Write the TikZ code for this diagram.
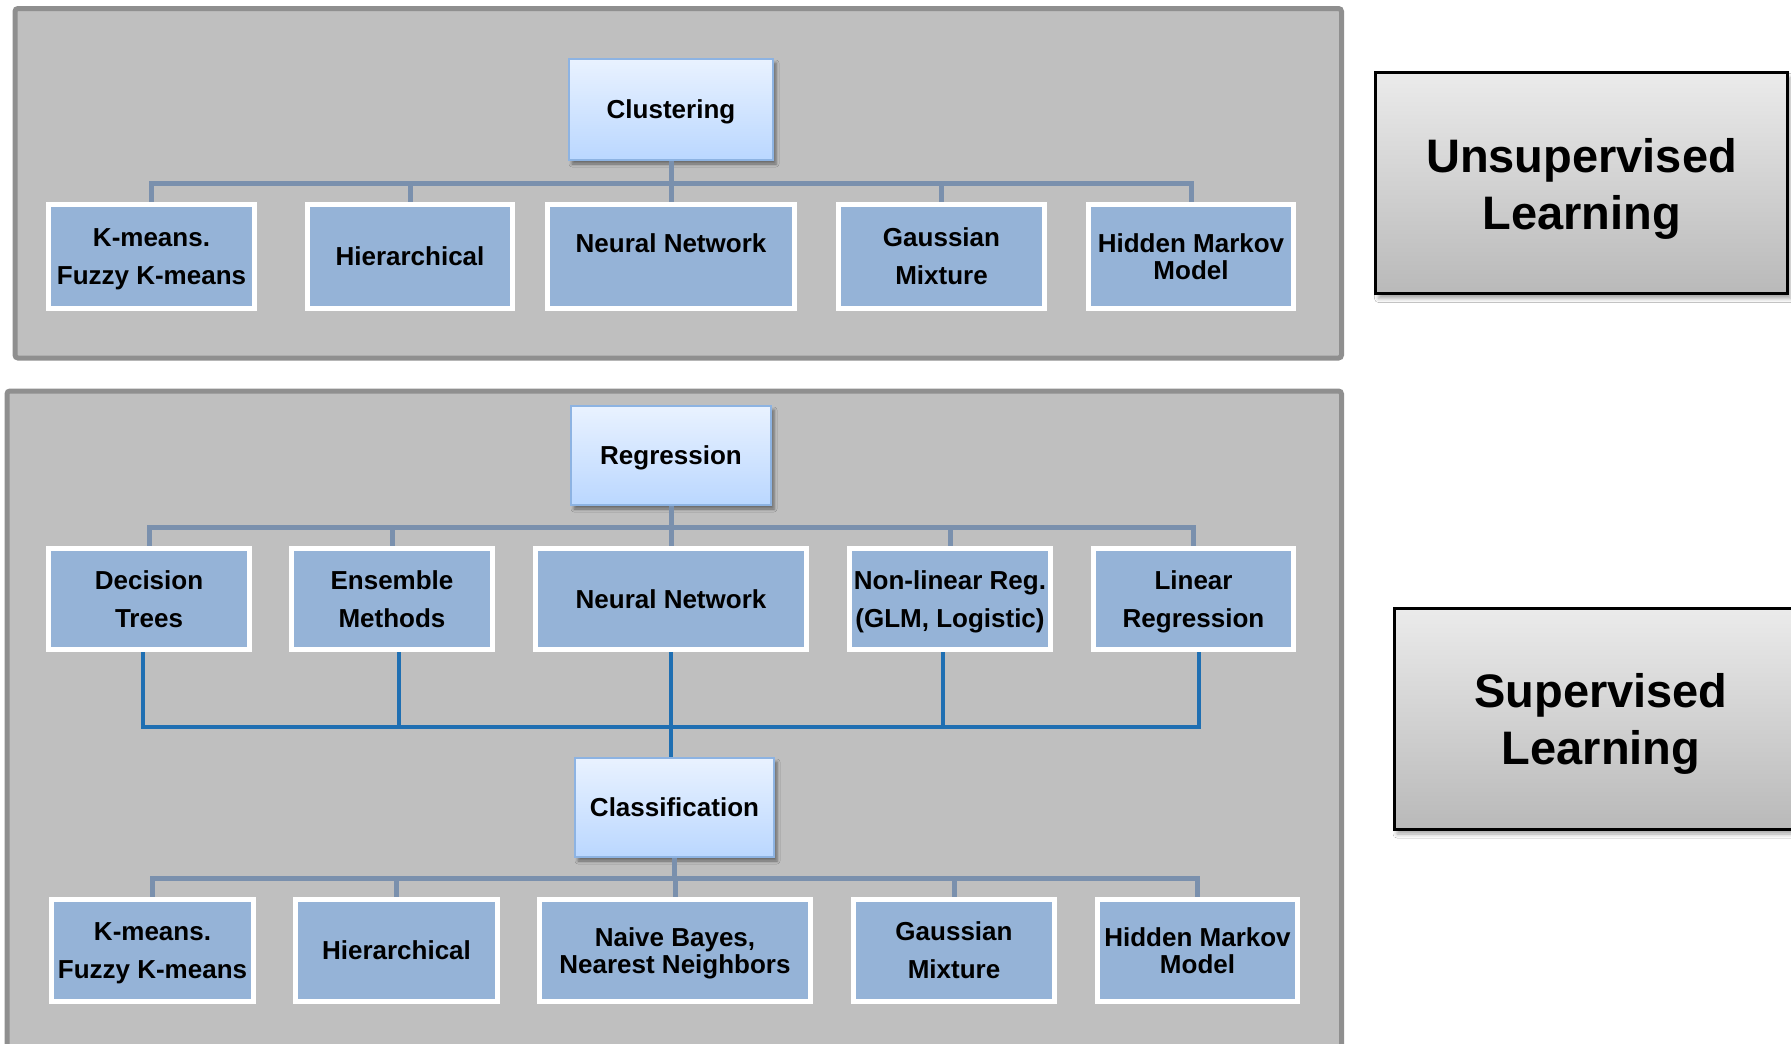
\documentclass[tikz,border=0pt]{standalone}
\usepackage{fontspec}
\setmainfont{Liberation Sans}
\usetikzlibrary{shadows.blur,calc}

\definecolor{panelfill}{HTML}{BFBFBF}
\definecolor{panelline}{HTML}{8F8F8F}
\definecolor{leaffill}{HTML}{95B3D7}
\definecolor{busblue}{HTML}{7A90AD}
\definecolor{linkblue}{HTML}{1F6FB2}
\definecolor{headtop}{HTML}{E9F2FF}
\definecolor{headbot}{HTML}{BAD7FF}
\definecolor{headline}{HTML}{8DB3E2}
\definecolor{labeltop}{HTML}{EBEBEB}
\definecolor{labelbot}{HTML}{B9B9B9}

% invisible struts that even out the height and depth of text lines
\newcommand\smallstrut{\rule[-6pt]{0pt}{30.6pt}}
\newcommand\bigstrut{\rule[-11pt]{0pt}{55.7pt}}
\newcommand\firstline{\rule{0pt}{24.6pt}}
\newcommand\firstbig{\rule{0pt}{46.3pt}}

\begin{document}
\begin{tikzpicture}[x=1pt,y=-1pt,
  panel/.style={fill=panelfill,draw=panelline,line width=5pt,rounded corners=3pt},
  leaf/.style 2 args={draw=white,line width=5pt,fill=leaffill,inner sep=0pt,
    align=center,minimum width=#1,minimum height=#2,
    font=\fontsize{26}{38}\selectfont\bfseries,
    execute at end node=\smallstrut},
  tight/.style={font=\fontsize{26}{27}\selectfont\bfseries},
  head/.style 2 args={draw=headline,line width=2pt,top color=headtop,bottom color=headbot,
    inner sep=0pt,minimum width=#1,minimum height=#2,
    font=\fontsize{26}{30}\selectfont\bfseries,
    execute at end node=\smallstrut,
    blur shadow={shadow xshift=3pt,shadow yshift=-4pt,shadow blur radius=3pt,shadow opacity=45}},
  bigbox/.style 2 args={draw=black,line width=3pt,top color=labeltop,bottom color=labelbot,
    inner sep=0pt,minimum width=#1,minimum height=#2,align=center,
    font=\fontsize{47}{57}\selectfont\bfseries,
    execute at end node=\bigstrut,
    blur shadow={shadow xshift=3pt,shadow yshift=-5pt,shadow blur radius=4pt,shadow opacity=35}},
  busline/.style={draw=busblue,line width=5pt},
  linkline/.style={draw=linkblue,line width=4pt}]

\useasboundingbox (0,0) rectangle (1791,1044);
\clip (0,0) rectangle (1791,1044);
\fill[white] (0,0) rectangle (1791,1044);

% background panels
\draw[panel] (15,8.5) rectangle (1341.5,358);
\draw[panel] (7,391) rectangle (1341.5,1070);

% side labels
\node[bigbox={412}{221}] (unsup) at (1581.5,183) {\firstbig Unsupervised\\Learning};
\node[bigbox={414}{221}] (sup) at (1601,718.5) {\firstbig Supervised\\Learning};

% ---- clustering tree ----
\node[head={204}{101}] (clu) at (671,109.5) {Clustering};
\node[leaf={206}{104}] (k1) at (151.5,256.5) {\firstline K-means.\\Fuzzy K-means};
\node[leaf={205}{104}] (h1) at (410,256.5) {Hierarchical};
\node[leaf={247}{104},tight] (n1) at (671,256.5) {\firstline Neural Network\\\mbox{}};
\node[leaf={206}{104}] (g1) at (941.5,256.5) {\firstline Gaussian\\Mixture};
\node[leaf={205}{104},tight] (m1) at (1191,256.5) {\firstline Hidden Markov\\Model};

\coordinate (b1) at (671,183);
\foreach \c in {k1,h1,n1,g1,m1}
  \draw[busline] (clu.south) -- (b1) -| (\c.north);

% ---- regression tree ----
\node[head={200}{99}] (reg) at (671,455.5) {Regression};
\node[leaf={201}{101}] (dt) at (149,599) {\firstline Decision\\Trees};
\node[leaf={201}{101}] (em) at (392,599) {\firstline Ensemble\\Methods};
\node[leaf={271}{101}] (n2) at (671,599) {Neural Network};
\node[leaf={201}{101}] (nl) at (950,599) {\firstline Non-linear Reg.\\(GLM, Logistic)};
\node[leaf={200}{101}] (lr) at (1193.5,599) {\firstline Linear\\Regression};

\coordinate (b2) at (671,527);
\foreach \c in {dt,em,n2,nl,lr}
  \draw[busline] (reg.south) -- (b2) -| (\c.north);

% links from the regression methods down to classification
\node[head={199}{99}] (cls) at (674.5,807.5) {Classification};
\coordinate (lb) at (671,727);
\draw[linkline] ([xshift=-6pt]dt.south) -- ([xshift=-6pt]dt.south |- lb)
  -- ([xshift=5.5pt]lr.south |- lb) -- ([xshift=5.5pt]lr.south);
\draw[linkline] ([xshift=7pt]em.south) -- ([xshift=7pt]em.south |- lb);
\draw[linkline] ([xshift=-7pt]nl.south) -- ([xshift=-7pt]nl.south |- lb);
\draw[linkline] (n2.south) -- (n2.south |- cls.north);

% ---- classification tree ----
\node[leaf={202}{102}] (k3) at (152.5,950.5) {\firstline K-means.\\Fuzzy K-means};
\node[leaf={202}{102}] (h3) at (396.5,950.5) {Hierarchical};
\node[leaf={271}{102},tight] (nb) at (675,950.5) {\firstline Naive Bayes,\\Nearest Neighbors};
\node[leaf={201}{102}] (g3) at (954,950.5) {\firstline Gaussian\\Mixture};
\node[leaf={200}{102},tight] (m3) at (1197.5,950.5) {\firstline Hidden Markov\\Model};

\coordinate (b3) at (674.5,878);
\foreach \c in {k3,h3,nb,g3,m3}
  \draw[busline] (cls.south) -- (b3) -| (\c.north);

\end{tikzpicture}
\end{document}
